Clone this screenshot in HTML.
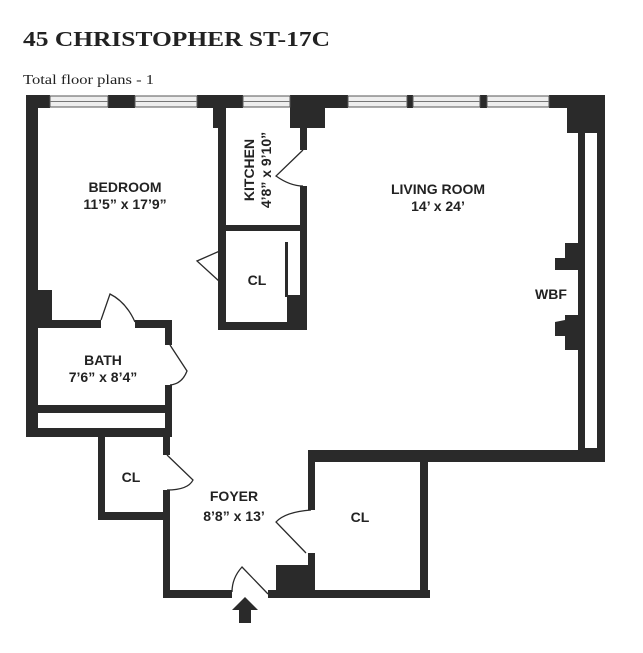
<!DOCTYPE html>
<html><head><meta charset="utf-8"><style>
html,body{margin:0;padding:0;background:#fff;}
svg{display:block;}
.t{font-family:"Liberation Sans",sans-serif;font-weight:bold;font-size:14px;fill:#222;}
</style></head><body>
<svg width="643" height="653" viewBox="0 0 643 653" xmlns="http://www.w3.org/2000/svg">
<rect width="643" height="653" fill="#fff"/>
<text x="23" y="46" font-family="Liberation Serif,serif" font-weight="bold" font-size="21" fill="#222" textLength="307" lengthAdjust="spacingAndGlyphs">45 CHRISTOPHER ST-17C</text>
<text x="23" y="84" font-family="Liberation Serif,serif" font-size="14" fill="#222" textLength="131" lengthAdjust="spacingAndGlyphs">Total floor plans - 1</text>
<g fill="#2a2a2a">
<rect x="26" y="95" width="24" height="13"/>
<rect x="108" y="95" width="27" height="13"/>
<rect x="197" y="95" width="46" height="13"/>
<rect x="290" y="95" width="58" height="13"/>
<rect x="407" y="95" width="6" height="13"/>
<rect x="480" y="95" width="7" height="13"/>
<rect x="549" y="95" width="56" height="13"/>
<rect x="213" y="108" width="13" height="20"/>
<rect x="290" y="108" width="35" height="20"/>
<rect x="567" y="108" width="38" height="25"/>
<rect x="26" y="95" width="12" height="342"/>
<rect x="597" y="95" width="8" height="365"/>
<rect x="578" y="133" width="7" height="320"/>
<rect x="578" y="448" width="27" height="12"/>
<rect x="218" y="108" width="8" height="222"/>
<rect x="226" y="225" width="74" height="6"/>
<rect x="300" y="108" width="7" height="42"/>
<rect x="300" y="186" width="7" height="144"/>
<rect x="285" y="242" width="3" height="55"/>
<rect x="287" y="295" width="20" height="30"/>
<rect x="218" y="322" width="89" height="8"/>
<rect x="38" y="290" width="14" height="32"/>
<rect x="26" y="320" width="75" height="8"/>
<rect x="135" y="320" width="35" height="8"/>
<rect x="165" y="320" width="7" height="25"/>
<rect x="165" y="385" width="7" height="52"/>
<rect x="26" y="405" width="146" height="8"/>
<rect x="26" y="428" width="146" height="9"/>
<rect x="98" y="437" width="7" height="83"/>
<rect x="98" y="512" width="70" height="8"/>
<rect x="163" y="437" width="7" height="18"/>
<rect x="163" y="490" width="7" height="108"/>
<rect x="163" y="590" width="69" height="8"/>
<rect x="268" y="590" width="162" height="8"/>
<rect x="276" y="565" width="39" height="33"/>
<rect x="308" y="450" width="7" height="60"/>
<rect x="308" y="553" width="7" height="45"/>
<rect x="308" y="450" width="297" height="12"/>
<rect x="420" y="455" width="8" height="143"/>
<polygon points="578,243 565,243 565,258 555,258 555,270 578,270"/>
<polygon points="578,315 565,315 565,320 555,322 555,336 565,336 565,350 578,350"/>
<polygon points="245,597 232,610 239,610 239,623 251,623 251,610 258,610"/>
</g>
<g stroke="#555" stroke-width="1" fill="#eee">
<rect x="50" y="96" width="58" height="11"/>
<rect x="135" y="96" width="62" height="11"/>
<rect x="243" y="96" width="47" height="11"/>
<rect x="348" y="96" width="59" height="11"/>
<rect x="413" y="96" width="67" height="11"/>
<rect x="487" y="96" width="62" height="11"/>
</g>
<g stroke="#777" stroke-width="1">
<line x1="50" y1="101.5" x2="108" y2="101.5"/><line x1="135" y1="101.5" x2="197" y2="101.5"/>
<line x1="243" y1="101.5" x2="290" y2="101.5"/><line x1="348" y1="101.5" x2="407" y2="101.5"/>
<line x1="413" y1="101.5" x2="480" y2="101.5"/><line x1="487" y1="101.5" x2="549" y2="101.5"/>
</g>
<g fill="none" stroke="#2a2a2a" stroke-width="1.3">
<path d="M303,150 L276,176 Q290,186 303,186"/>
<path d="M222,250 L197,261 L220,282"/>
<path d="M101,320 L110,294 Q126,302 135,322"/>
<path d="M170,345 L187,371 Q182,384 170,385"/>
<path d="M167,455 L193,480 Q188,490 167,490"/>
<path d="M311,510 Q285,512 276,522 L306,553"/>
<path d="M268,594 L242,567 Q232,578 232,592"/>
</g>
<text class="t" x="125" y="192" text-anchor="middle">BEDROOM</text>
<text class="t" x="125" y="209" text-anchor="middle">11’5” x 17’9”</text>
<text class="t" transform="translate(254,170) rotate(-90)" text-anchor="middle">KITCHEN</text>
<text class="t" transform="translate(271,170) rotate(-90)" text-anchor="middle">4’8” x 9’10”</text>
<text class="t" x="257" y="285" text-anchor="middle">CL</text>
<text class="t" x="438" y="194" text-anchor="middle">LIVING ROOM</text>
<text class="t" x="438" y="211" text-anchor="middle">14’ x 24’</text>
<text class="t" x="551" y="299" text-anchor="middle">WBF</text>
<text class="t" x="103" y="365" text-anchor="middle">BATH</text>
<text class="t" x="103" y="382" text-anchor="middle">7’6” x 8’4”</text>
<text class="t" x="131" y="482" text-anchor="middle">CL</text>
<text class="t" x="234" y="501" text-anchor="middle">FOYER</text>
<text class="t" x="234" y="521" text-anchor="middle">8’8” x 13’</text>
<text class="t" x="360" y="522" text-anchor="middle">CL</text>
</svg>
</body></html>
